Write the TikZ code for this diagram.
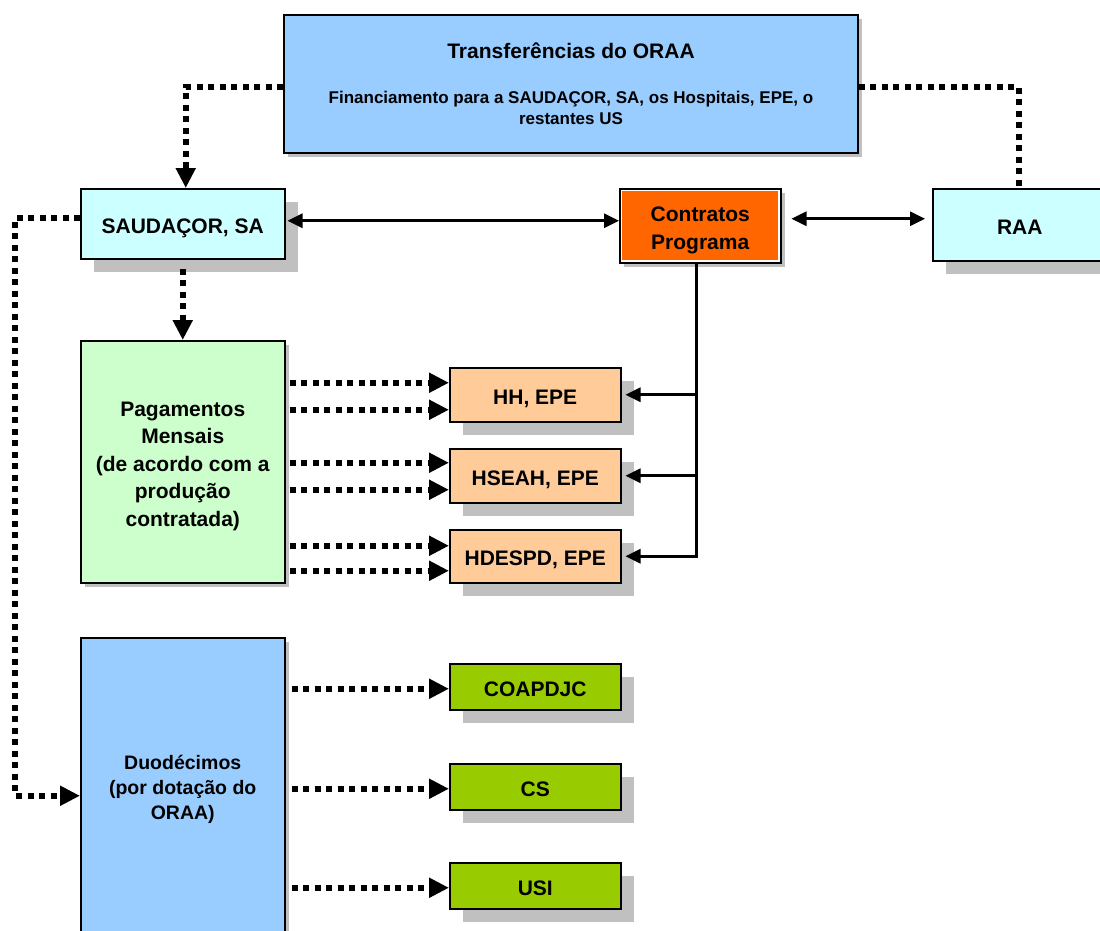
\documentclass[tikz,border=0pt]{standalone}
\usepackage{fontspec}
\setmainfont{Liberation Sans}
\usetikzlibrary{arrows.meta,calc,shadows}
\definecolor{topblue}{HTML}{99CCFF}
\definecolor{cyanbox}{HTML}{CCFFFF}
\definecolor{orangebox}{HTML}{FF6600}
\definecolor{greenbox}{HTML}{CCFFCC}
\definecolor{peach}{HTML}{FFCC99}
\definecolor{limebox}{HTML}{99CC00}
\definecolor{shadowgray}{HTML}{C0C0C0}
\newcommand\boxtext[2][4pt]{\raisebox{-#1}[\height][\depth]{\begin{tabular}{@{}c@{}}#2\end{tabular}}}
\begin{document}
\begin{tikzpicture}[x=1pt,y=-1pt,
  box/.style={draw=black, line width=1.5pt, inner sep=0pt, anchor=north west,
    font=\bfseries\fontsize{21}{27.5}\selectfont},
  bigshadow/.style={general shadow={fill=shadowgray, shadow xshift=13pt, shadow yshift=-13pt}},
  smallshadow/.style={general shadow={fill=shadowgray, shadow xshift=4pt, shadow yshift=-4pt}},
  dots/.style={line width=6pt, dash pattern=on 6pt off 5.5pt, -{Triangle[length=20pt,width=19pt]}},
  dotsplain/.style={line width=6pt, dash pattern=on 6pt off 5.5pt},
  solidarr/.style={line width=3pt, -{Triangle[length=15pt,width=14pt]}},
  solidboth/.style={line width=3pt, {Triangle[length=15pt,width=14pt]}-{Triangle[length=15pt,width=14pt]}},
  solidline/.style={line width=3pt}
]
\useasboundingbox (0,0) rectangle (1100,930);
\fill[white] (0,0) rectangle (1100,930);
\clip (0,0) rectangle (1100,930);

% boxes
\node[box, smallshadow, fill=topblue, minimum width=574pt, minimum height=138pt] (top) at (283,14) {};
\node[font=\bfseries\fontsize{21}{26}\selectfont] (toptitle) at (571,51) {Transferências do ORAA};
\node[font=\bfseries\fontsize{17}{21}\selectfont, align=center] (topsub) at (571,108)
  {Financiamento para a SAUDAÇOR, SA, os Hospitais, EPE, o\\restantes US};

\node[box, bigshadow, fill=cyanbox, minimum width=204pt, minimum height=70pt] (sau) at (80,188) {\boxtext{SAUDAÇOR, SA}};
\node[box, smallshadow, fill=orangebox, minimum width=161pt, minimum height=74pt] (cp) at (619,188) {\boxtext{Contratos\\Programa}};
\draw[white, line width=1.5pt] ($(cp.north west)+(2.3,2.3)$) rectangle ($(cp.south east)+(-2.3,-2.3)$);
\node[box, bigshadow, fill=cyanbox, minimum width=174pt, minimum height=72pt] (raa) at (932,188) {\boxtext{RAA}};

\node[box, smallshadow, fill=greenbox, minimum width=204pt, minimum height=242pt] (pag) at (80,340)
  {\boxtext{Pagamentos\\Mensais\\(de acordo com a\\produção\\contratada)}};

\node[box, bigshadow, fill=peach, minimum width=171pt, minimum height=54pt] (hh) at (449,367) {\boxtext{HH, EPE}};
\node[box, bigshadow, fill=peach, minimum width=171pt, minimum height=54pt] (hs) at (449,448) {\boxtext{HSEAH, EPE}};
\node[box, bigshadow, fill=peach, minimum width=171pt, minimum height=53pt] (hd) at (449,529) {\boxtext{HDESPD, EPE}};

\node[box, smallshadow, fill=topblue, minimum width=204pt, minimum height=300pt,
  font=\bfseries\fontsize{19.5}{25}\selectfont] (duo) at (80,637)
  {\boxtext[2pt]{Duodécimos\\(por dotação do\\ORAA)}};

\node[box, bigshadow, fill=limebox, minimum width=171pt, minimum height=46pt] (coa) at (449,663) {\boxtext{COAPDJC}};
\node[box, bigshadow, fill=limebox, minimum width=171pt, minimum height=46pt] (cs) at (449,763) {\boxtext{CS}};
\node[box, bigshadow, fill=limebox, minimum width=171pt, minimum height=46pt] (usi) at (449,862) {\boxtext{USI}};

% top dotted connectors
\coordinate (topL) at ($(top.north west)+(0,73)$);
\coordinate (topR) at ($(top.north east)+(0,73)$);
\draw[dots] (topL) -| ([xshift=3pt]sau.north);
\draw[dotsplain] (topR) -| ([xshift=-1pt]raa.north);

% solid connectors
\coordinate (sauE) at ([yshift=3pt]sau.east);
\draw[solidboth] ([xshift=2pt]sauE) -- (sauE -| cp.west);
\coordinate (cpE) at ([xshift=10pt,yshift=7pt]cp.east);
\draw[solidboth] (cpE) -- ([xshift=-7pt]cpE -| raa.west);
\coordinate (ctop) at ([xshift=-3.5pt]cp.south);
\draw[solidline] (ctop) |- ([xshift=1.5pt]hd.east -| ctop);
\draw[solidarr] (hh.east -| ctop) -- ([xshift=4pt]hh.east);
\draw[solidarr] (hs.east -| ctop) -- ([xshift=4pt]hs.east);
\draw[solidarr] (hd.east -| ctop) -- ([xshift=4pt]hd.east);

% SAUDACOR -> Pagamentos
\draw[dots] ([yshift=-9pt]sau.south) -- (pag.north);

% SAUDACOR -> Duodecimos
\coordinate (sauW) at ([yshift=6pt]sau.west);
\coordinate (lft) at (15,0);
\coordinate (duoW) at ([yshift=-8pt]duo.west);
\draw[dots] (sauW) -- (sauW -| lft) |- (duoW);

% Pagamentos -> hospitals
\coordinate (pagE) at ([xshift=4pt]pag.east);
\foreach \n/\a/\b in {hh/12/-15, hs/13/-14, hd/10.5/-14.5}{
  \coordinate (ea) at ([yshift=\a pt]\n.west);
  \coordinate (eb) at ([yshift=\b pt]\n.west);
  \draw[dots] (pagE |- ea) -- (ea);
  \draw[dots] (pagE |- eb) -- (eb);
}

% Duodecimos -> units
\coordinate (duoE) at ([xshift=6pt]duo.east);
\foreach \n in {coa,cs,usi}{
  \coordinate (eu) at ([yshift=-2pt]\n.west);
  \draw[dots] (duoE |- eu) -- (eu);
}
\end{tikzpicture}
\end{document}
